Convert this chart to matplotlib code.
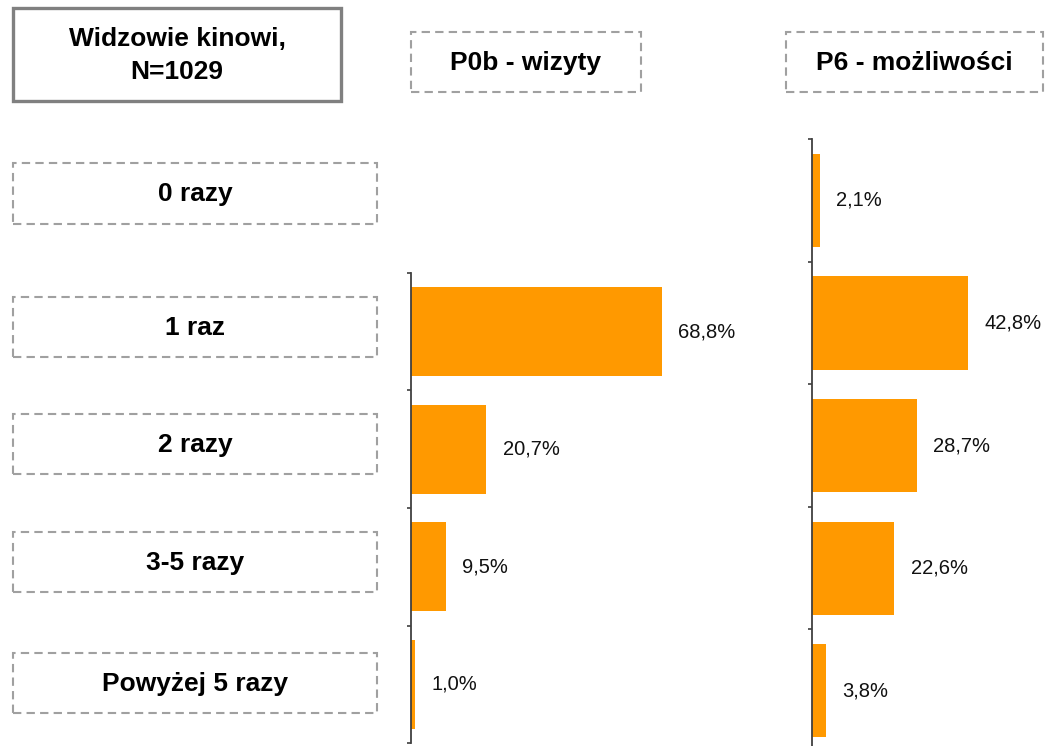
import matplotlib
matplotlib.use("Agg")
import matplotlib.pyplot as plt
from matplotlib.patches import Rectangle

plt.rcParams['font.family'] = ['Liberation Sans', 'DejaVu Sans']

# ---- data ----
categories = ["0 razy", "1 raz", "2 razy", "3-5 razy", "Powyżej 5 razy"]
visits_categories = ["1 raz", "2 razy", "3-5 razy", "Powyżej 5 razy"]
visits_values = [68.8, 20.7, 9.5, 1.0]          # P0b - wizyty
possib_values = [2.1, 42.8, 28.7, 22.6, 3.8]    # P6 - możliwości
header_main = "Widzowie kinowi,\nN=1029"
header_left = "P0b - wizyty"
header_right = "P6 - możliwości"

ORANGE = "#FF9900"
AXCOL = "#404040"
DASH = "#A0A0A0"

W, H = 1046, 746
fig = plt.figure(figsize=(W / 100, H / 100), dpi=100)


def fx(px):
    return px / W


def fy(py):
    return 1 - py / H


def box(x0, y0, x1, y1, dashed=True, text=None, fs=19, ls=1.15):
    kw = dict(transform=fig.transFigure, fill=False)
    if dashed:
        r = Rectangle((fx(x0), fy(y1)), fx(x1) - fx(x0), fy(y0) - fy(y1),
                      edgecolor=DASH, linewidth=1.5, linestyle=(0, (4, 2.5)), **kw)
    else:
        r = Rectangle((fx(x0), fy(y1)), fx(x1) - fx(x0), fy(y0) - fy(y1),
                      edgecolor="#808080", linewidth=2.4, **kw)
    fig.patches.append(r)
    if text is not None:
        fig.text(fx((x0 + x1) / 2), fy((y0 + y1) / 2 + 1), text, ha="center", va="center",
                 fontsize=fs, fontweight="bold", color="black", linespacing=ls)


# header boxes
box(13, 8, 341, 101, dashed=False, text=header_main, ls=1.45)
box(411, 32, 641, 92, text=header_left)
box(786, 32, 1043, 92, text=header_right)

# row label boxes
row_boxes = [(163, 224), (297, 357), (414, 474), (532, 592), (653, 713)]
for cat, (y0, y1) in zip(categories, row_boxes):
    box(13, y0, 377, y1, text=cat)

PXPP = 3.645  # pixels per percent


def chart(left, top, bottom, width, cats, vals, bar_h):
    ax = fig.add_axes([fx(left), fy(bottom), fx(width), fy(top) - fy(bottom)])
    ax.set_facecolor("none")
    n = len(cats)
    ypos = list(range(n))
    ax.barh(ypos, vals, height=bar_h, color=ORANGE, edgecolor="none")
    ax.set_xlim(0, width / PXPP)
    ax.set_ylim(n - 0.5, -0.5)
    for s in ["top", "right", "bottom"]:
        ax.spines[s].set_visible(False)
    ax.spines["left"].set_color(AXCOL)
    ax.spines["left"].set_linewidth(1.3)
    ax.set_xticks([])
    ax.set_yticks([])
    ax.set_yticks([i - 0.5 for i in range(n + 1)], minor=True)
    ax.tick_params(axis="y", which="minor", direction="out", length=3,
                   width=1.2, color=AXCOL, labelleft=False)
    for y, v in zip(ypos, vals):
        ax.annotate(f"{v:.1f}".replace(".", ",") + "%", (v, y), xytext=(12, 0),
                    textcoords="offset points", ha="left", va="center",
                    fontsize=14.5, color="#111111", annotation_clip=False)
    return ax


chart(411, 272.7, 743.3, 330, visits_categories, visits_values, 0.755)
chart(812, 139.2, 752, 230, categories, possib_values, 0.76)

fig.savefig("out.png", dpi=100)
